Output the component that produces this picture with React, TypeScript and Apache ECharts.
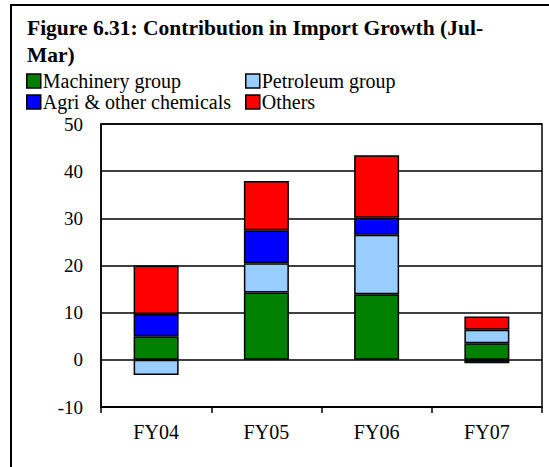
import React, { useEffect, useRef } from "react";
import * as echarts from "echarts";

const categories = ["FY04", "FY05", "FY06", "FY07"];
const machinery = [5.0, 14.3, 13.9, 3.5];
const petroleum = [-3.2, 6.2, 12.6, 2.9];
const agri = [4.7, 7.0, 3.6, -0.7];
const others = [10.3, 10.4, 13.3, 2.8];

const FONT = '"Liberation Serif", "Times New Roman", serif';

export default function App() {
  const ref = useRef<HTMLDivElement>(null);
  useEffect(() => {
    if (!ref.current) return;
    const chart = echarts.init(ref.current, undefined, { renderer: "svg" });
    const mk = (name: string, data: number[], color: string) => ({
      name,
      type: "bar",
      stack: "total",
      data,
      barWidth: 45,
      itemStyle: { color, borderColor: "#000", borderWidth: 1.5 },
    });
    const legendCommon = {
      orient: "vertical",
      icon: "rect",
      itemWidth: 14,
      itemHeight: 14,
      itemGap: 1,
      padding: 0,
      textStyle: { fontFamily: FONT, fontSize: 20, color: "#000", lineHeight: 19, padding: [0, 0, 0, -3] },
      itemStyle: { borderColor: "#000", borderWidth: 1.5 },
    };
    chart.setOption({
      animation: false,
      backgroundColor: "#fff",
      textStyle: { fontFamily: FONT },
      title: {
        text: "Figure 6.31: Contribution in Import Growth (Jul-\nMar)",
        left: 22,
        top: 9,
        textStyle: { fontFamily: FONT, fontSize: 21.5, fontWeight: "bold", color: "#000", lineHeight: 27 },
      },
      legend: [
        { ...legendCommon, left: 26, top: 71, data: ["Machinery group", "Agri & other chemicals"] },
        { ...legendCommon, left: 245, top: 71, data: ["Petroleum group", "Others"] },
      ],
      grid: { left: 101, right: 7, top: 124, bottom: 60, show: true, borderColor: "#000", borderWidth: 1.5 },
      xAxis: {
        type: "category",
        data: categories,
        axisLine: { onZero: false, lineStyle: { color: "#000", width: 1.5 } },
        axisTick: { show: true, length: 6, lineStyle: { color: "#000", width: 1.5 } },
        axisLabel: { color: "#000", fontFamily: FONT, fontSize: 20, margin: 15 },
      },
      yAxis: {
        type: "value",
        min: -10,
        max: 50,
        interval: 10,
        axisLine: { show: true, lineStyle: { color: "#000", width: 1.5 } },
        axisTick: { show: false },
        splitLine: { lineStyle: { color: "#000", width: 1.5 } },
        axisLabel: { color: "#000", fontFamily: FONT, fontSize: 19, margin: 18 },
      },
      series: [
        mk("Machinery group", machinery, "#008000"),
        mk("Petroleum group", petroleum, "#99CCFF"),
        mk("Agri & other chemicals", agri, "#0000FF"),
        mk("Others", others, "#FF0000"),
      ],
      graphic: [
        {
          type: "rect",
          shape: { x: 11, y: 5, width: 600, height: 520 },
          style: { fill: "none", stroke: "#000", lineWidth: 2 },
          silent: true,
        },
      ],
    });
    return () => chart.dispose();
  }, []);
  return <div ref={ref} style={{ position: "fixed", left: 0, top: 0, width: 549, height: 467 }} />;
}
